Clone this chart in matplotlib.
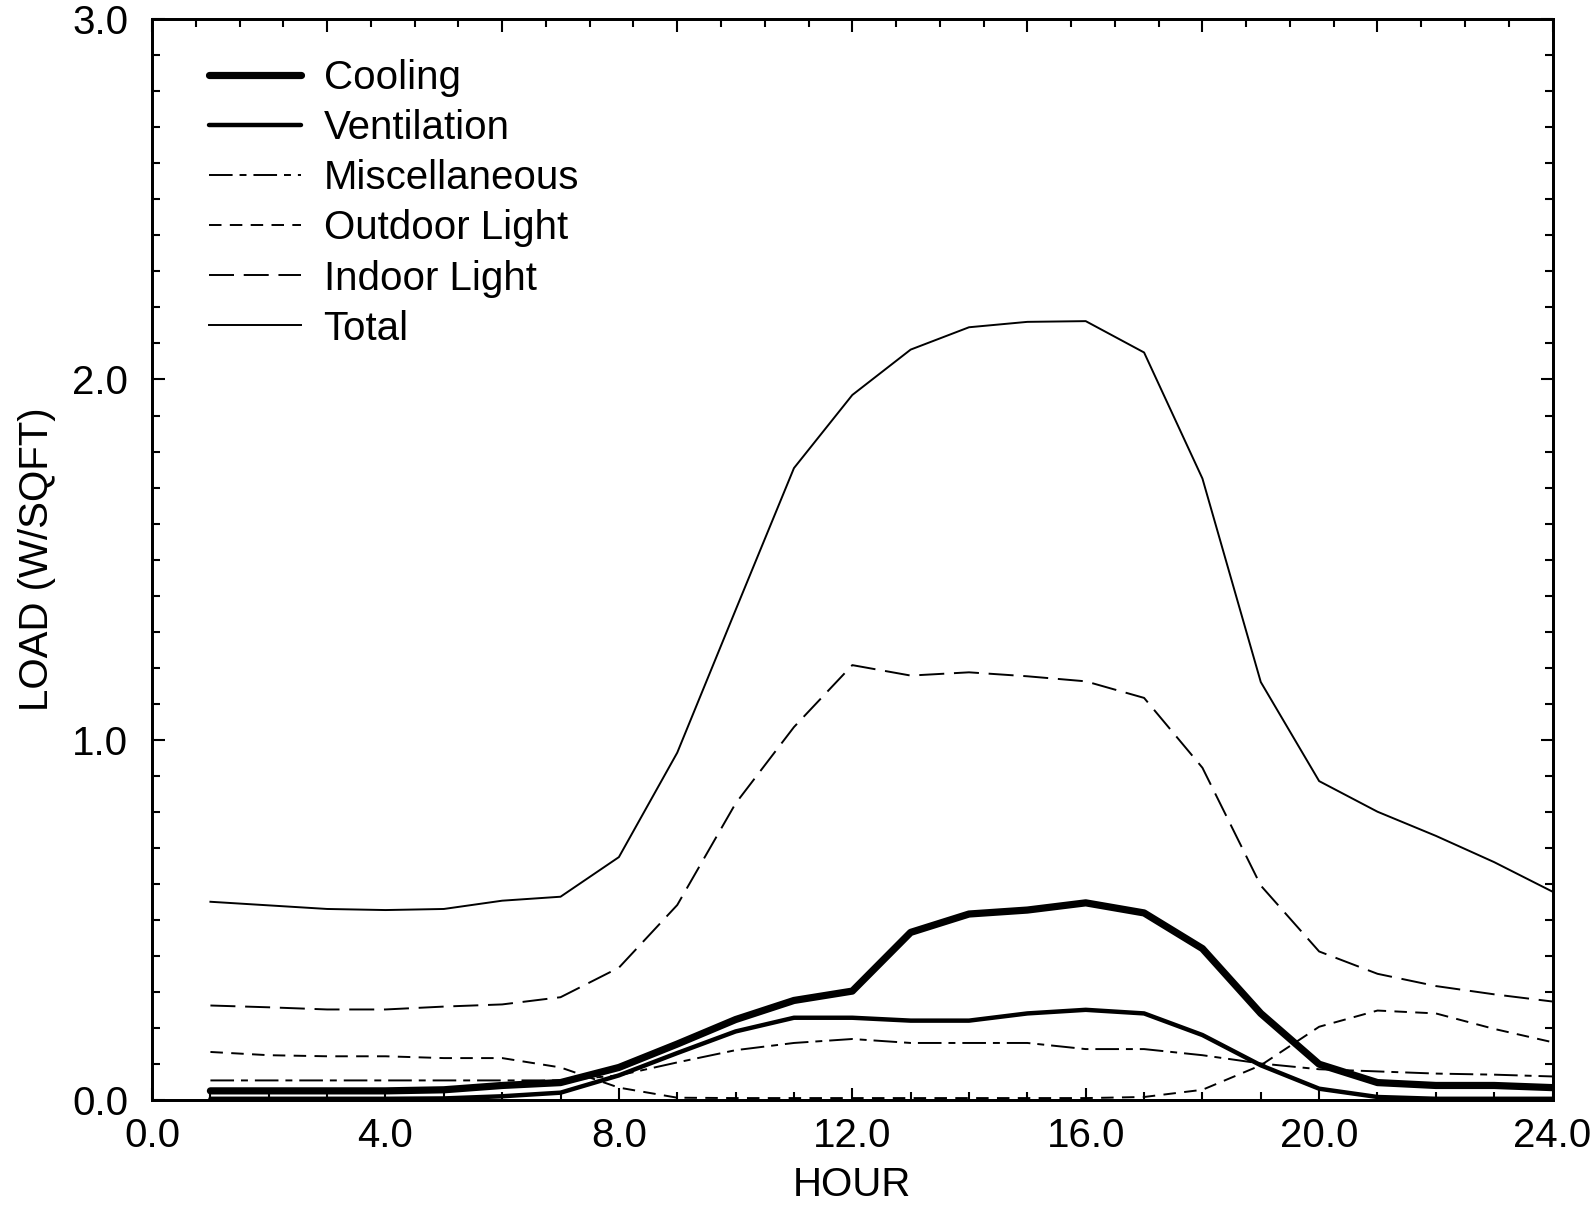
import matplotlib
matplotlib.use("Agg")
import matplotlib.pyplot as plt
from matplotlib.ticker import MultipleLocator, FormatStrFormatter

#############################################################
# Data - hourly loads (W/SQFT)
#############################################################

hours = list(range(1, 25))

cooling = [0.025, 0.025, 0.025, 0.025, 0.028, 0.040, 0.048, 0.090,
           0.155, 0.223, 0.276, 0.302, 0.465, 0.516, 0.527, 0.547,
           0.519, 0.420, 0.240, 0.099, 0.048, 0.040, 0.040, 0.034]

ventilation = [0.003, 0.003, 0.003, 0.003, 0.004, 0.010, 0.020, 0.068,
               0.130, 0.190, 0.228, 0.228, 0.220, 0.220, 0.240, 0.250,
               0.240, 0.180, 0.096, 0.031, 0.008, 0.003, 0.003, 0.003]

miscellaneous = [0.054, 0.054, 0.054, 0.054, 0.054, 0.054, 0.054, 0.068,
                 0.104, 0.138, 0.158, 0.169, 0.158, 0.158, 0.158, 0.141,
                 0.141, 0.124, 0.101, 0.085, 0.079, 0.073, 0.070, 0.065]

outdoor_light = [0.133, 0.124, 0.121, 0.121, 0.116, 0.116, 0.090, 0.034,
                 0.006, 0.005, 0.005, 0.005, 0.005, 0.005, 0.005, 0.005,
                 0.008, 0.028, 0.096, 0.203, 0.248, 0.240, 0.197, 0.160]

indoor_light = [0.262, 0.257, 0.251, 0.251, 0.259, 0.265, 0.285, 0.367,
                0.541, 0.823, 1.035, 1.207, 1.178, 1.187, 1.176, 1.162,
                1.116, 0.922, 0.595, 0.412, 0.350, 0.316, 0.293, 0.273]

total = [0.550, 0.540, 0.530, 0.527, 0.530, 0.553, 0.564, 0.674,
         0.964, 1.360, 1.754, 1.957, 2.083, 2.145, 2.160, 2.162,
         2.075, 1.725, 1.160, 0.885, 0.800, 0.733, 0.660, 0.578]

#############################################################
# Presentation
#############################################################

plt.rcParams['font.family'] = ['Liberation Sans', 'DejaVu Sans']
plt.rcParams['lines.scale_dashes'] = False

fig = plt.figure(figsize=(15.94, 12.06), dpi=100)
ax = fig.add_axes([0.0954, 0.088, 0.8786, 0.896])

ax.plot(hours, cooling, color='k', lw=5.2, solid_capstyle='round', label='Cooling')
ax.plot(hours, ventilation, color='k', lw=3.2, solid_capstyle='round', label='Ventilation')
ax.plot(hours, miscellaneous, color='k', lw=1.4, dashes=(17, 5, 5, 5), label='Miscellaneous')
ax.plot(hours, outdoor_light, color='k', lw=1.4, dashes=(9, 6), label='Outdoor Light')
ax.plot(hours, indoor_light, color='k', lw=1.4, dashes=(18, 7), label='Indoor Light')
ax.plot(hours, total, color='k', lw=1.4, label='Total')

ax.set_xlim(0, 24)
ax.set_ylim(0, 3.0)
ax.xaxis.set_major_locator(MultipleLocator(4))
ax.xaxis.set_minor_locator(MultipleLocator(1))
ax.yaxis.set_major_locator(MultipleLocator(1))
ax.yaxis.set_minor_locator(MultipleLocator(0.1))
ax.xaxis.set_major_formatter(FormatStrFormatter('%.1f'))
ax.yaxis.set_major_formatter(FormatStrFormatter('%.1f'))

ax.tick_params(which='both', direction='in', top=False, right=True, width=1.5)
ax.tick_params(which='major', length=9)
ax.tick_params(which='minor', length=6)
ax.tick_params(axis='x', which='major', labelsize=29, pad=12)
ax.tick_params(axis='y', which='major', labelsize=29, pad=17)

# top edge carries its own finer tick scale in the original
top = ax.twiny()
top.set_xlim(0, 24)
top.xaxis.set_major_locator(MultipleLocator(3))
top.xaxis.set_minor_locator(MultipleLocator(0.75))
top.tick_params(which='both', direction='in', labeltop=False, width=1.5)
top.tick_params(which='major', length=9)
top.tick_params(which='minor', length=6)

for a in (ax, top):
    for s in a.spines.values():
        s.set_linewidth(2.0)

ax.set_xlabel('HOUR', fontsize=29, labelpad=8)
ax.set_ylabel('LOAD (W/SQFT)', fontsize=29, labelpad=12)

ax.legend(loc='upper left', bbox_to_anchor=(0.029, 0.978), frameon=False,
          fontsize=29, handlelength=2.3, handletextpad=0.55,
          labelspacing=0.3, borderaxespad=0.0)

plt.savefig('out.png', dpi=100)
plt.close(fig)
